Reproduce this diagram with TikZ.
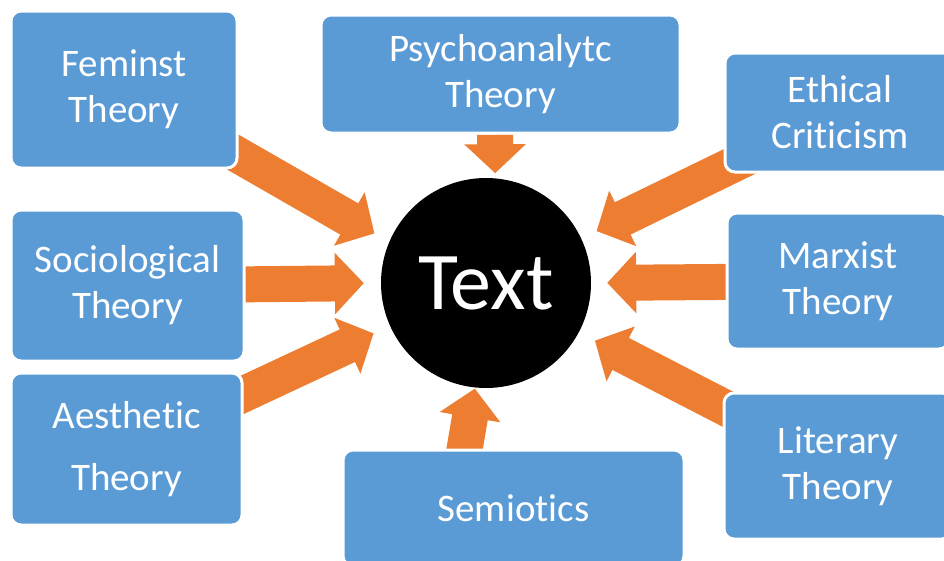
\documentclass[tikz,border=0pt]{standalone}
\usepackage{fontspec}
\setmainfont{Carlito}[RawFeature={-liga}]
\usepackage{xcolor}
\usetikzlibrary{arrows.meta,backgrounds}

\definecolor{boxblue}{HTML}{5B9BD5}
\definecolor{arroworange}{HTML}{ED7D31}

\tikzset{
    theorybox/.style={rectangle, fill=boxblue, draw=white, line width=3pt, rounded corners=10pt, text=white, align=center, inner sep=0pt, font=\fontsize{39}{46}\selectfont},
    fatarrow/.style={draw=arroworange, line width=36pt, -{Triangle[width=60pt,length=29pt]}}
}

\begin{document}
\begin{tikzpicture}[x=1pt,y=-1pt]
    \useasboundingbox (0,0) rectangle (944,560);
    \clip (0,0) rectangle (944,560);
    \node(txt) [circle, fill=black, minimum size=210pt, inner sep=0pt, text=white, font=\fontsize{82}{90}\selectfont] at (486,283) {Text};
    \node(fem) [theorybox, minimum width=226pt, minimum height=157pt] at (124,89.5) {Feminst\\Theory};
    \node(psy) [theorybox, minimum width=359pt, minimum height=118pt] at (500.5,74) {Psychoanalytc\\Theory};
    \node(eth) [theorybox, minimum width=230pt, minimum height=119pt] at (840,112.5) {Ethical\\Criticism};
    \node(soc) [theorybox, minimum width=233pt, minimum height=151pt] at (127.5,285.5) {Sociological\\Theory};
    \node(mar) [theorybox, minimum width=222pt, minimum height=136pt] at (838,281) {Marxist\\Theory};
    \node(aes) [theorybox, minimum width=231pt, minimum height=152pt] at (126.5,449) {Aesthetic\\[16pt]Theory};
    \node(lit) [theorybox, minimum width=228pt, minimum height=146pt] at (838,466) {Literary\\Theory};
    \node(sem) [theorybox, minimum width=341pt, minimum height=116pt] at (513.5,508) {Semiotics};
    \coordinate (semfoot) at (461,470);
    \begin{scope}[on background layer]
        \draw[fatarrow, shorten >=17pt] (fem.center) -- (txt.157);
        \draw[fatarrow, shorten >=5pt] ([xshift=-5.5pt]psy.south) -- (txt.85);
        \draw[fatarrow, shorten >=17pt] (eth.center) -- (txt.25);
        \draw[fatarrow, shorten >=17pt] (soc.center) -- (txt.180);
        \draw[fatarrow, shorten >=16pt] (mar.center) -- (txt.0);
        \draw[fatarrow, shorten >=18pt] (aes.center) -- (txt.204);
        \draw[fatarrow, shorten >=18pt] (lit.center) -- (txt.332);
        \draw[fatarrow, shorten >=1pt] (semfoot) -- (txt.264);
    \end{scope}
\end{tikzpicture}
\end{document}
